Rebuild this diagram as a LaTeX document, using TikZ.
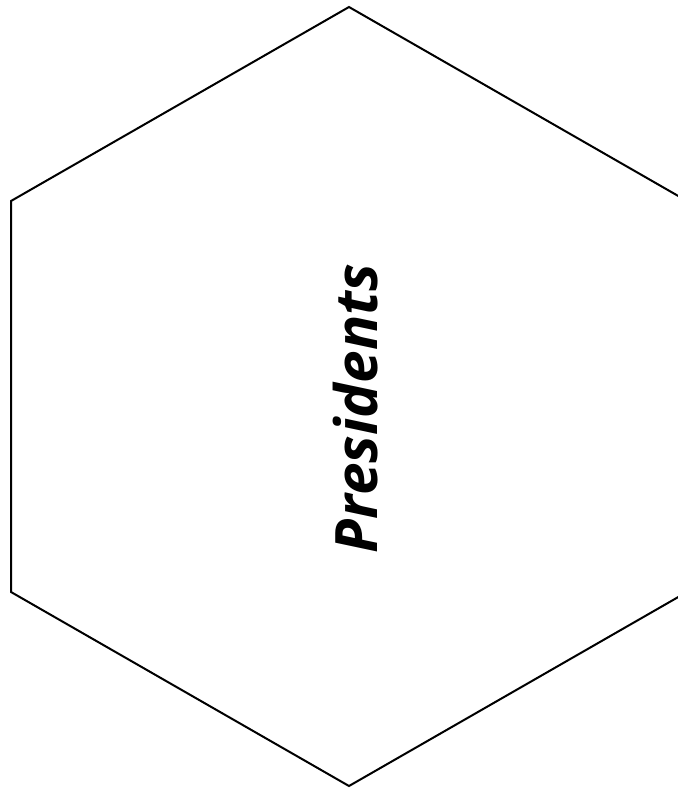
\documentclass[tikz,border=0pt]{standalone}
\usepackage{fontspec}
\setmainfont{Open Sans}
\tikzset{
  hexedge/.style={draw=black, line width=2pt, line join=miter},
  hexlabel/.style={font=\fontsize{58.5}{62}\selectfont\bfseries\itshape, rotate=90, inner sep=0pt},
}
\begin{document}
\begin{tikzpicture}[x=1pt, y=-1pt]
  \useasboundingbox (0,0) rectangle (678,788);
  \clip (0,0) rectangle (678,788);
  % hexagon, its right corners fall outside the page
  \coordinate (top) at (349,7);
  \coordinate (ul) at (11,201);
  \coordinate (ll) at (11,592);
  \coordinate (bot) at (349,786);
  \coordinate (lr) at (687,592);
  \coordinate (ur) at (687,201);
  \draw[hexedge] (top) -- (ul) -- (ll) -- (bot) -- (lr) -- (ur) -- cycle;
  \node[hexlabel] (title) at (356,408.5) {Presidents};
\end{tikzpicture}
\end{document}
